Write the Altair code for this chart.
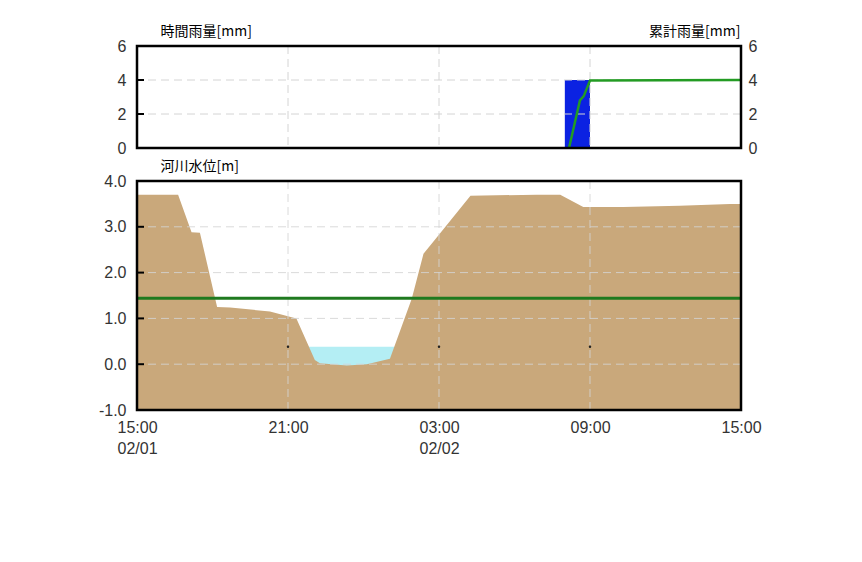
import altair as alt
import pandas as pd

# ---------------- data ----------------
PROFILE_TIME = [
    "2024-02-01T15:00:00Z", "2024-02-01T16:38:00Z", "2024-02-01T17:10:00Z",
    "2024-02-01T17:30:00Z", "2024-02-01T18:11:00Z", "2024-02-01T18:42:00Z",
    "2024-02-01T20:17:00Z", "2024-02-01T21:20:00Z", "2024-02-01T22:04:00Z",
    "2024-02-01T22:16:00Z", "2024-02-01T23:20:00Z", "2024-02-02T00:08:00Z",
    "2024-02-02T01:03:00Z", "2024-02-02T01:55:00Z", "2024-02-02T02:23:00Z",
    "2024-02-02T02:55:00Z", "2024-02-02T04:15:00Z", "2024-02-02T06:53:00Z",
    "2024-02-02T07:49:00Z", "2024-02-02T08:44:00Z", "2024-02-02T10:19:00Z",
    "2024-02-02T12:34:00Z", "2024-02-02T14:34:00Z", "2024-02-02T15:00:00Z",
]
PROFILE_M = [
    3.70, 3.70, 2.88, 2.87, 1.25, 1.24, 1.15, 1.00, 0.09, 0.02, -0.03, 0.00,
    0.12, 1.43, 2.41, 2.77, 3.68, 3.70, 3.70, 3.43, 3.43, 3.46, 3.50, 3.50,
]
WATER_TIME = ["2024-02-01T21:40:00Z", "2024-02-02T01:20:00Z"]
WATER_M = [0.38, 0.38]
DOT_TIME = ["2024-02-01T21:00:00Z", "2024-02-02T03:00:00Z", "2024-02-02T09:00:00Z"]
DOT_M = [0.38, 0.38, 0.38]
THRESHOLD_M = [1.44]

RAIN_START = ["2024-02-02T08:00:00Z"]
RAIN_END = ["2024-02-02T09:00:00Z"]
RAIN_MM = [4]
CUM_TIME = ["2024-02-02T08:10:00Z", "2024-02-02T08:36:00Z", "2024-02-02T08:45:00Z",
            "2024-02-02T09:00:00Z", "2024-02-02T15:00:00Z"]
CUM_MM = [0.0, 2.8, 3.05, 3.97, 4.0]

TICK_TIME = ["2024-02-01T15:00:00Z", "2024-02-01T21:00:00Z", "2024-02-02T03:00:00Z",
             "2024-02-02T09:00:00Z", "2024-02-02T15:00:00Z"]
TICK_LABEL = [["15:00", "02/01"], ["21:00"], ["03:00", "02/02"], ["09:00"], ["15:00"]]
GRID_TIME = ["2024-02-01T21:00:00Z", "2024-02-02T03:00:00Z", "2024-02-02T09:00:00Z"]
LEVEL_TICKS = [-1, 0, 1, 2, 3, 4]
LEVEL_INNER_TICKS = [0, 1, 2, 3]
LEVEL_GRID = [0, 1, 2, 3]
RAIN_TICKS = [0, 2, 4, 6]
RAIN_INNER_TICKS = [2, 4]
RAIN_GRID = [2, 4]

# ---------------- helpers ----------------
def ms(s):
    return int(pd.Timestamp(s).value // 10**6)

def dt(s):
    t = pd.Timestamp(s)
    return alt.DateTime(year=t.year, month=t.month, date=t.day, hours=t.hour,
                        minutes=t.minute, utc=True)

label_expr = "''"
for s, lab in reversed(list(zip(TICK_TIME, TICK_LABEL))):
    arr = "[" + ",".join("'%s'" % p for p in lab) + "]"
    label_expr = "time(datum.value) == %d ? %s : %s" % (ms(s), arr, label_expr)

level_label_expr = ("datum.value < 0 ? '-' + format(-datum.value, '.1f') "
                    ": format(datum.value, '.1f')")

W, H_TOP, H_BOT = 604, 102, 229
x_scale = alt.Scale(type="utc", domain=[dt(TICK_TIME[0]), dt(TICK_TIME[-1])], nice=False)
rain_scale = alt.Scale(domain=[0, 6], nice=False, zero=True)
lvl_scale = alt.Scale(domain=[-1, 4], nice=False, zero=False, clamp=True)

GRID_COLOR = "#d4d4d4"
DASH = [8, 5]

def frame():
    return alt.Chart(pd.DataFrame({"a": [0]})).mark_rect(
        fillOpacity=0, stroke="black", strokeWidth=2.5
    ).encode(x=alt.value(0), x2=alt.value("width"), y=alt.value(0), y2=alt.value("height"))

# ---------------- top panel: rainfall ----------------
rain_df = pd.DataFrame({"s": RAIN_START, "e": RAIN_END, "mm": RAIN_MM})
cum_df = pd.DataFrame({"t": CUM_TIME, "mm": CUM_MM})

top_x_axis = alt.Axis(values=[dt(s) for s in TICK_TIME], labels=False, ticks=False,
                      domain=False, grid=False, title=None)

bars = alt.Chart(rain_df).mark_bar(color="#0b22e2").encode(
    x=alt.X("s:T", scale=x_scale, axis=top_x_axis),
    x2="e:T",
    y=alt.Y("mm:Q", scale=rain_scale, title="時間雨量[mm]",
            axis=alt.Axis(values=RAIN_TICKS, format="d", ticks=False, domain=False, grid=False,
                          labelPadding=11, titleAngle=0, titleX=23, titleY=-8,
                          titleAlign="left", titleBaseline="bottom")),
    y2=alt.datum(0),
)
cum_line = alt.Chart(cum_df).mark_line(color="#239b23", strokeWidth=2.5).encode(
    x=alt.X("t:T", scale=x_scale, axis=None),
    y=alt.Y("mm:Q", scale=rain_scale, title="累計雨量[mm]",
            axis=alt.Axis(orient="right", values=RAIN_TICKS, format="d", ticks=False,
                          domain=False, grid=False, labelPadding=7, titleAngle=0,
                          titleX=-1, titleY=-8, titleAlign="right", titleBaseline="bottom")),
)
top_vgrid = alt.Chart(pd.DataFrame({"t": GRID_TIME})).mark_rule(
    color=GRID_COLOR, strokeDash=DASH, strokeWidth=1
).encode(x=alt.X("t:T", scale=x_scale, axis=None))
top_hgrid = alt.Chart(pd.DataFrame({"v": RAIN_GRID})).mark_rule(
    color=GRID_COLOR, strokeDash=DASH, strokeWidth=1
).encode(y=alt.Y("v:Q", scale=rain_scale, axis=None))
top_ticks = alt.Chart(pd.DataFrame({"v": RAIN_INNER_TICKS})).mark_rule(
    color="black", strokeWidth=2
).encode(y=alt.Y("v:Q", scale=rain_scale, axis=None), x=alt.value(0), x2=alt.value(7))

top = alt.layer(bars, top_vgrid, top_hgrid, cum_line, top_ticks, frame()).resolve_scale(
    y="independent").properties(width=W, height=H_TOP)

# ---------------- bottom panel: river level ----------------
prof_df = pd.DataFrame({"t": PROFILE_TIME, "m": PROFILE_M})
water_df = pd.DataFrame({"t": WATER_TIME, "m": WATER_M})
dot_df = pd.DataFrame({"t": DOT_TIME, "m": DOT_M})

bot_x_axis = alt.Axis(values=[dt(s) for s in TICK_TIME], labelExpr=label_expr, ticks=False,
                      domain=False, grid=False, title=None, labelPadding=9,
                      labelLineHeight=21, labelFlush=False, labelOverlap=False,
                      labelBaseline="top", labelAlign="center")
bot_y_axis = alt.Axis(values=LEVEL_TICKS, labelExpr=level_label_expr, ticks=False,
                      domain=False, grid=False, labelPadding=11, titleAngle=0, titleX=23,
                      titleY=-8, titleAlign="left", titleBaseline="bottom")
Y_TITLE = "河川水位[m]"

def bx(field):
    return alt.X(field, scale=x_scale, axis=bot_x_axis, title=None)

def by(field):
    return alt.Y(field, scale=lvl_scale, axis=bot_y_axis, title=Y_TITLE)

water = alt.Chart(water_df).mark_area(color="#b4eef4", opacity=1).encode(
    x=bx("t:T"), y=by("m:Q"), y2=alt.datum(-1),
)
profile = alt.Chart(prof_df).mark_area(color="#c9a87b", opacity=1).encode(
    x=bx("t:T"), y=by("m:Q"), y2=alt.datum(-1),
)
bot_hgrid = alt.Chart(pd.DataFrame({"v": LEVEL_GRID})).mark_rule(
    color=GRID_COLOR, strokeDash=DASH, strokeWidth=1, opacity=0.85
).encode(y=by("v:Q"))
bot_vgrid = alt.Chart(pd.DataFrame({"t": GRID_TIME})).mark_rule(
    color=GRID_COLOR, strokeDash=DASH, strokeWidth=1, opacity=0.85
).encode(x=bx("t:T"))
threshold = alt.Chart(pd.DataFrame({"v": THRESHOLD_M})).mark_rule(
    color="#1f7a1f", strokeWidth=3
).encode(y=by("v:Q"))
dots = alt.Chart(dot_df).mark_point(filled=True, color="#222", size=6, opacity=1).encode(
    x=bx("t:T"), y=by("m:Q"),
)
bot_ticks = alt.Chart(pd.DataFrame({"v": LEVEL_INNER_TICKS})).mark_rule(
    color="black", strokeWidth=2
).encode(y=by("v:Q"), x=alt.value(0), x2=alt.value(7))

bottom = alt.layer(water, profile, bot_hgrid, bot_vgrid, threshold, dots, bot_ticks,
                   frame()).properties(width=W, height=H_BOT)

chart = alt.vconcat(top, bottom, spacing=33, bounds="flush").properties(
    padding={"left": 90, "top": 16, "right": 5, "bottom": 5}
).configure_view(stroke=None).configure_axis(
    labelFont="Liberation Sans", labelFontSize=16, labelColor="#333",
    titleFont="Noto Sans CJK JP", titleFontSize=14, titleColor="#000",
    titleFontWeight="normal",
)

chart.save("out.html", embed_options={"renderer": "svg", "actions": False})
